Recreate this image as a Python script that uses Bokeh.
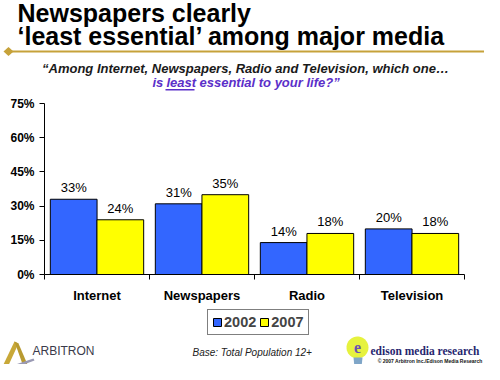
import numpy as np
from bokeh.plotting import figure
from bokeh.models import (ColumnDataSource, Range1d, LinearAxis,
                          FixedTicker, PrintfTickFormatter, Label, LabelSet, Legend, LegendItem,
                          BoxAnnotation, PolyAnnotation)
from bokeh.core.properties import value
from bokeh.transform import dodge
from bokeh.embed import file_html
from bokeh.resources import INLINE

# ---- data ----
categories = ["Internet", "Newspapers", "Radio", "Television"]
years = ["2002", "2007"]
values_2002 = [33, 31, 14, 20]
values_2007 = [24, 35, 18, 18]
y_ticks = [0, 15, 30, 45, 60, 75]

BLUE = "#3366FF"
YELLOW = "#FFFF00"
FONT = "Liberation Sans"

n = len(categories)
centers = [i + 0.5 for i in range(n)]
src = ColumnDataSource(dict(
    xc=centers,
    v2002=values_2002,
    v2007=values_2007,
    l2002=[f"{v}%" for v in values_2002],
    l2007=[f"{v}%" for v in values_2007],
))

# ---- layout (reference page pixels) ----
W, H = 484, 364
OX, OY = 0, 0            # where the figure's top-left lands in the picture
AX_L, AX_R = 44, 464      # x-axis pixel extent (category 0 .. n)
AX_B, AX_T = 274, 103     # y-axis pixel extent (0 .. 75)
ppx = (AX_R - AX_L) / n
ppy = (AX_B - AX_T) / 75.0
x0 = -(AX_L - OX) / ppx
x1 = x0 + W / ppx
y1 = 75 + (AX_T - OY) / ppy
y0 = y1 - H / ppy

p = figure(frame_width=W, frame_height=H, x_range=Range1d(x0, x1), y_range=Range1d(y0, y1),
           output_backend="svg", toolbar_location=None, x_axis_location=None,
           y_axis_location=None, min_border=0)
p.outline_line_color = None
p.xgrid.visible = False
p.ygrid.visible = False
p.background_fill_color = "white"
p.border_fill_color = "white"

# y axis
ya = LinearAxis(fixed_location=0, bounds=(0, 75), ticker=FixedTicker(ticks=y_ticks),
                formatter=PrintfTickFormatter(format="%d%%"),
                axis_line_color="black", major_tick_line_color="black", major_tick_out=5,
                major_tick_in=0, minor_tick_line_color=None, major_label_text_font=FONT,
                major_label_text_font_style="bold", major_label_text_font_size="12px",
                major_label_text_color="black", major_label_standoff=5)
p.add_layout(ya, "left")

# x axis: boundary ticks (no labels), then category labels
bx = LinearAxis(fixed_location=0, bounds=(0, n), ticker=FixedTicker(ticks=list(range(n + 1))),
                axis_line_color="black", major_tick_line_color="black", major_tick_out=5,
                major_tick_in=0, minor_tick_line_color=None, major_label_text_color=None,
                major_label_text_font_size="1px", major_label_standoff=0)
p.add_layout(bx, "below")
cx = LinearAxis(fixed_location=0, ticker=FixedTicker(ticks=centers),
                major_label_overrides={c: name for c, name in zip(centers, categories)},
                axis_line_color=None, major_tick_line_color=None, major_tick_out=0,
                major_tick_in=0, minor_tick_line_color=None, major_label_standoff=13,
                major_label_text_font=FONT, major_label_text_font_style="bold",
                major_label_text_font_size="13px", major_label_text_color="black")
p.add_layout(cx, "below")

# bars
r1 = p.vbar(x=dodge("xc", -0.222), top="v2002", bottom=0, width=0.445, source=src,
            fill_color=BLUE, line_color="black", line_width=1)
r2 = p.vbar(x=dodge("xc", 0.222), top="v2007", bottom=0, width=0.445, source=src,
            fill_color=YELLOW, line_color="black", line_width=1)

for field, top, off in (("l2002", "v2002", -0.222), ("l2007", "v2007", 0.222)):
    p.add_layout(LabelSet(x=dodge("xc", off), y=top, text=field, source=src,
                          text_align="center", text_baseline="alphabetic", y_offset=7,
                          text_font=value(FONT), text_font_size=value("13px"),
                          text_color="black"))

# helpers: picture coords -> screen coords relative to frame (y up)
def sx(X):
    return X - OX
def sy(Y):
    return (OY + H) - Y

legend = Legend(items=[LegendItem(label=years[0], renderers=[r1]),
                       LegendItem(label=years[1], renderers=[r2])],
                orientation="horizontal", location=(sx(207), sy(335)),
                border_line_color="black", border_line_width=1, background_fill_color="white",
                background_fill_alpha=1, label_text_font=FONT, label_text_font_style="bold",
                label_text_font_size="14.5px", glyph_width=10, glyph_height=10, label_standoff=2,
                spacing=3, padding=4, margin=0, label_height=15)
p.add_layout(legend, "center")

def label(X, Y, text, size, color="black", style="normal", align="left", font=FONT):
    p.add_layout(Label(x=sx(X), y=sy(Y), x_units="screen", y_units="screen", text=text,
                       text_font=font, text_font_size=size, text_font_style=style,
                       text_color=color, text_align=align, text_baseline="middle"))

def poly(pts, color, line=None):
    xs = [sx(a) for a, b in pts]
    ys = [sy(b) for a, b in pts]
    p.add_layout(PolyAnnotation(xs=xs, ys=ys, xs_units="screen", ys_units="screen",
                                fill_color=color, fill_alpha=1, line_color=line))

def box(l, r, t, b, color):
    p.add_layout(BoxAnnotation(left=sx(l), right=sx(r), top=sy(t), bottom=sy(b),
                               left_units="screen", right_units="screen", bottom_units="screen",
                               top_units="screen", fill_color=color, fill_alpha=1,
                               line_color=None))

# title
label(17, 12.5, "Newspapers clearly", "25px", style="bold")
label(17, 35, "\u2018least essential\u2019 among major media", "25px", style="bold")

# gold rule with diamond
GOLD = "#C6A23A"
box(8, 500, 50, 52, GOLD)
poly([(3, 51), (8, 46.5), (13, 51), (8, 55.5)], GOLD)

# subtitle
PURPLE = "#5B2FC9"
label(245, 67.5, "\u201cAmong Internet, Newspapers, Radio and Television, which one\u2026", "13px",
      color="#1a1a1a", style="bold italic", align="center")
label(152, 82, "is", "13px", color=PURPLE, style="bold italic")
label(166, 82, "least", "13px", color=PURPLE, style="bold italic")
label(199, 82, "essential to your life?\u201d", "13px", color=PURPLE, style="bold italic")
box(165, 194, 88.5, 90, PURPLE)

# footer
label(192, 352, "Base:  Total Population 12+", "10px", color="#222222", style="italic")

# Arbitron logo
poly([(2, 366), (14, 341), (18, 343), (7, 367)], "#C8A838")
poly([(14, 341), (18, 343), (30, 371), (25, 372)], "#B89A30")
poly([(6, 367), (33, 358), (34, 360), (10, 369)], "#9A9AB4")
label(32, 350.5, "ARBITRON", "12px", color="#3a3a4a")

# Edison logo (shifted left so it fits the canvas)
EX = -14
t = np.linspace(0, 2 * np.pi, 40)
poly(list(zip(371 + EX + 11 * np.cos(t), 347 + 11 * np.sin(t))), "#E6F23E")
poly([(367 + EX, 357), (376 + EX, 357), (375 + EX, 367), (368 + EX, 367)], "#7FA6C8")
label(371 + EX, 347, "e", "16px", color="#6A4FB0", style="bold", align="center",
      font="Liberation Serif")
label(384 + EX, 350, "edison media research", "11.5px", color="#26266E", style="bold",
      font="Liberation Serif")
label(482, 360, "\u00a9 2007 Arbitron Inc./Edison Media Research", "5px", color="#111111",
      style="bold", align="right")

open("out.html", "w").write(file_html(p, INLINE))
